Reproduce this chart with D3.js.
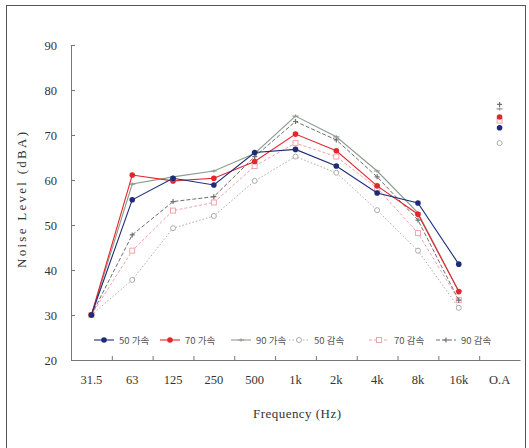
<!DOCTYPE html>
<html>
<head>
<meta charset="utf-8">
<script src="https://cdnjs.cloudflare.com/ajax/libs/d3/7.8.5/d3.min.js"></script>
<style>
  html, body { margin: 0; padding: 0; background: #fff; }
  svg text { font-family: "Liberation Serif", "DejaVu Serif", serif; fill: #333; }
  .kr { font-family: "Noto Sans CJK KR", "Liberation Serif", serif; }
</style>
</head>
<body>
<svg id="chart" width="529" height="448"></svg>
<script>
// Frequency bands (last one is the overall level)
const categories = ["31.5", "63", "125", "250", "500", "1k", "2k", "4k", "8k", "16k", "O.A"];
const bands = categories.slice(0, 10);

// Noise level per band, dB(A)
const accel50 = [30.0, 55.6, 60.4, 58.9, 66.1, 66.8, 63.1, 57.1, 54.9, 41.3];
const accel70 = [30.0, 61.1, 59.8, 60.4, 64.1, 70.2, 66.5, 58.7, 52.4, 35.2];
const accel90 = [30.0, 59.1, 60.7, 62.0, 65.9, 74.2, 69.6, 62.0, 52.7, 35.3];
const decel50 = [30.0, 37.8, 49.3, 52.0, 59.8, 65.2, 61.6, 53.3, 44.3, 31.6];
const decel70 = [30.0, 44.3, 53.2, 55.0, 63.1, 68.2, 65.2, 58.2, 48.2, 33.3];
const decel90 = [30.0, 47.8, 55.2, 56.3, 65.2, 73.0, 68.9, 60.7, 51.1, 33.3];

// Overall (O.A) levels
const overall = [71.6, 74.0, 75.8, 68.2, 73.2, 76.8];

const seriesNames = ["50 가속", "70 가속", "90 가속", "50 감속", "70 감속", "90 감속"];
const yTicks = [20, 30, 40, 50, 60, 70, 80, 90];

const seriesValues = [accel50, accel70, accel90, decel50, decel70, decel90];
const styles = [
  { color: "#1d2c78", dash: null, marker: "dot", width: 1.1 },
  { color: "#e3262c", dash: null, marker: "dot", width: 1.1 },
  { color: "#8c9c8e", dash: null, marker: "dash", width: 1.1 },
  { color: "#ababab", dash: "1.5,2", marker: "ring", width: 1 },
  { color: "#f2a3ab", dash: "3,2", marker: "square", width: 1 },
  { color: "#6f6f6f", dash: "4,2", marker: "plus", width: 1 }
];

const svg = d3.select("#chart");

// outer frame
svg.append("rect")
  .attr("x", 6.5).attr("y", 5.5)
  .attr("width", 519).attr("height", 460)
  .attr("fill", "none").attr("stroke", "#555").attr("stroke-width", 1);

const plotLeft = 71, plotRight = 520, plotTop = 45, plotBottom = 360;

const x = d3.scaleBand().domain(categories).range([plotLeft, plotRight]).padding(0);
const xc = d => x(d) + x.bandwidth() / 2;
const y = d3.scaleLinear().domain([20, 90]).range([plotBottom, plotTop]);

// y axis
const yAxis = svg.append("g")
  .attr("transform", `translate(${plotLeft},0)`)
  .call(d3.axisLeft(y).tickValues(yTicks).tickSize(-4).tickPadding(14).tickFormat(d3.format("d")));
yAxis.select(".domain").attr("stroke", "#777");
yAxis.selectAll(".tick line").attr("stroke", "#777");
yAxis.selectAll("text").attr("font-size", 12.5).style("fill", "#333");

// x axis: labels centred on bands, ticks on band boundaries
const xAxis = svg.append("g")
  .attr("transform", `translate(0,${plotBottom})`)
  .call(d3.axisBottom(x).tickSize(0).tickPadding(15));
xAxis.select(".domain").attr("stroke", "#777");
xAxis.selectAll("text").attr("font-size", 12.5).style("fill", "#333");

const xBound = d3.scaleLinear().domain([0, categories.length]).range([plotLeft, plotRight]);
const xTicks = svg.append("g")
  .attr("transform", `translate(0,${plotBottom})`)
  .call(d3.axisBottom(xBound).tickValues(d3.range(1, categories.length)).tickSize(-4).tickFormat(""));
xTicks.select(".domain").remove();
xTicks.selectAll(".tick line").attr("stroke", "#777");

// axis titles
svg.append("text")
  .attr("transform", "translate(26,200) rotate(-90)")
  .attr("text-anchor", "middle").attr("font-size", 13)
  .attr("textLength", 136).attr("lengthAdjust", "spacing")
  .text("Noise Level (dBA)");
svg.append("text")
  .attr("x", 297).attr("y", 418)
  .attr("text-anchor", "middle").attr("font-size", 13)
  .attr("textLength", 88).attr("lengthAdjust", "spacing")
  .text("Frequency (Hz)");

function drawMarker(g, type, cx, cy, color) {
  if (type === "dot") {
    g.append("circle").attr("cx", cx).attr("cy", cy).attr("r", 2.8).attr("fill", color);
  } else if (type === "ring") {
    g.append("circle").attr("cx", cx).attr("cy", cy).attr("r", 2.5)
      .attr("fill", "#fff").attr("stroke", color).attr("stroke-width", 1);
  } else if (type === "square") {
    g.append("rect").attr("x", cx - 2.5).attr("y", cy - 2.5).attr("width", 5).attr("height", 5)
      .attr("fill", "#fff").attr("stroke", color).attr("stroke-width", 1);
  } else if (type === "plus") {
    g.append("path").attr("d", `M${cx - 2.5},${cy}H${cx + 2.5}M${cx},${cy - 2.5}V${cy + 2.5}`)
      .attr("stroke", color).attr("stroke-width", 1.2);
  } else if (type === "dash") {
    g.append("path").attr("d", `M${cx - 3},${cy}H${cx + 3}M${cx},${cy - 1.5}V${cy + 1.5}`)
      .attr("stroke", color).attr("stroke-width", 1.2);
  }
}

const line = d3.line().x((d, i) => xc(bands[i])).y(d => y(d));

// draw lighter series first
const order = [3, 4, 5, 2, 1, 0];
order.forEach(s => {
  const st = styles[s];
  const g = svg.append("g");
  g.append("path")
    .attr("d", line(seriesValues[s]))
    .attr("fill", "none")
    .attr("stroke", st.color)
    .attr("stroke-width", st.width)
    .attr("stroke-dasharray", st.dash);
  seriesValues[s].forEach((v, i) => drawMarker(g, st.marker, xc(bands[i]), y(v), st.color));
  drawMarker(g, st.marker, xc("O.A"), y(overall[s]), st.color);
});

// legend
const legendX = [94, 160, 231, 289, 369, 436];
const legendY = 340;
seriesNames.forEach((name, s) => {
  const st = styles[s];
  const g = svg.append("g");
  const x0 = legendX[s];
  g.append("line")
    .attr("x1", x0).attr("x2", x0 + 20).attr("y1", legendY).attr("y2", legendY)
    .attr("stroke", st.color).attr("stroke-width", st.width)
    .attr("stroke-dasharray", st.dash);
  drawMarker(g, st.marker, x0 + 10, legendY, st.color);
  g.append("text")
    .attr("class", "kr")
    .attr("x", x0 + 25).attr("y", legendY + 3.5)
    .attr("font-size", 9.5)
    .style("fill", "#555")
    .text(name);
});
</script>
</body>
</html>
